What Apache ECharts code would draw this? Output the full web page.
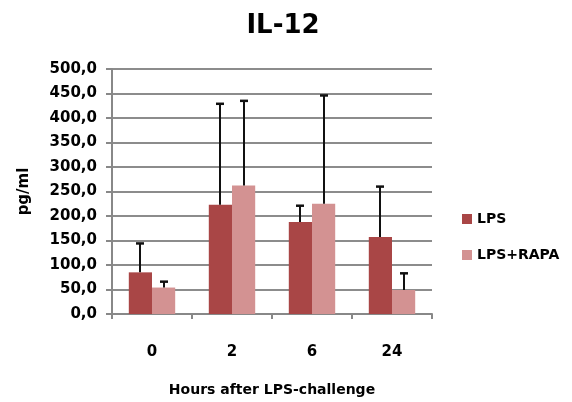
<!DOCTYPE html>
<html><head><meta charset="utf-8">
<script src="https://cdn.jsdelivr.net/npm/echarts@6/dist/echarts.min.js"></script>
<style>html,body{margin:0;padding:0;background:#fff}#c{width:572px;height:402px}</style>
</head><body><div id="c"></div>
<script>
const categories = ['0', '2', '6', '24'];
const lps = [85, 223, 188, 157];
const lpsErr = [144, 429, 221, 260];
const rapa = [54, 262, 225, 49];
const rapaErr = [66, 435, 446, 83];
const seriesNames = ['LPS', 'LPS+RAPA'];

const FONT = '"DejaVu Sans"';
const chart = echarts.init(document.getElementById('c'));
const GAP = 0.42;

function errSeries(name, vals, tops, side) {
  return {
    type: 'custom', name: name + ' err', z: 10, silent: true,
    data: vals.map((v, i) => [i, v, tops[i]]),
    renderItem: function (params, api) {
      const i = api.value(0);
      const base = api.coord([i, api.value(1)]);
      const top = api.coord([i, api.value(2)]);
      const band = api.size([1, 0])[0];
      const bw = band * (1 - GAP) / 2;
      const x = Math.round(base[0] + side * bw / 2);
      return {
        type: 'group', children: [
          { type: 'line', shape: { x1: x, y1: base[1], x2: x, y2: top[1] }, style: { stroke: '#111', lineWidth: 2 } },
          { type: 'line', shape: { x1: x - 4, y1: top[1], x2: x + 4, y2: top[1] }, style: { stroke: '#111', lineWidth: 2.5 } }
        ]
      };
    }
  };
}

chart.setOption({
  animation: false,
  title: { text: 'IL-12', left: 278, top: 8, textAlign: 'center',
    textStyle: { fontFamily: FONT, fontWeight: 'bold', fontSize: 26, color: '#000' } },
  legend: {
    data: seriesNames, orient: 'vertical', left: 457, top: 207, itemGap: 22,
    itemWidth: 10, itemHeight: 10, icon: 'rect',
    textStyle: { fontFamily: FONT, fontWeight: 'bold', fontSize: 14, color: '#000' }
  },
  grid: { left: 112, right: 140, top: 69, bottom: 86, containLabel: false },
  xAxis: {
    type: 'category', data: categories,
    name: 'Hours after LPS-challenge', nameLocation: 'middle', nameGap: 69,
    nameTextStyle: { fontFamily: FONT, fontWeight: 'bold', fontSize: 14, color: '#000' },
    axisLine: { lineStyle: { color: '#888', width: 2 } },
    axisTick: { show: true, length: 5, lineStyle: { color: '#888', width: 2 } },
    axisLabel: { margin: 31, fontFamily: FONT, fontWeight: 'bold', fontSize: 15, color: '#000' }
  },
  yAxis: {
    type: 'value', min: 0, max: 500, interval: 50,
    name: 'pg/ml', nameLocation: 'middle', nameGap: 80, nameRotate: 90,
    nameTextStyle: { fontFamily: FONT, fontWeight: 'bold', fontSize: 15, color: '#000' },
    axisLine: { show: true, lineStyle: { color: '#888', width: 2 } },
    axisTick: { show: true, length: 6, lineStyle: { color: '#888', width: 2 } },
    splitLine: { lineStyle: { color: '#8c8c8c', width: 2 } },
    axisLabel: { margin: 15, fontFamily: FONT, fontWeight: 'bold', fontSize: 15, color: '#000',
      formatter: v => v.toFixed(1).replace('.', ',') }
  },
  series: [
    { name: 'LPS', type: 'bar', data: lps, barGap: 0, barCategoryGap: '42%',
      itemStyle: { color: '#A94646' } },
    { name: 'LPS+RAPA', type: 'bar', data: rapa, barGap: 0, barCategoryGap: '42%',
      itemStyle: { color: '#D39292' } },
    errSeries('LPS', lps, lpsErr, -1),
    errSeries('LPS+RAPA', rapa, rapaErr, 1)
  ]
});
</script></body></html>
